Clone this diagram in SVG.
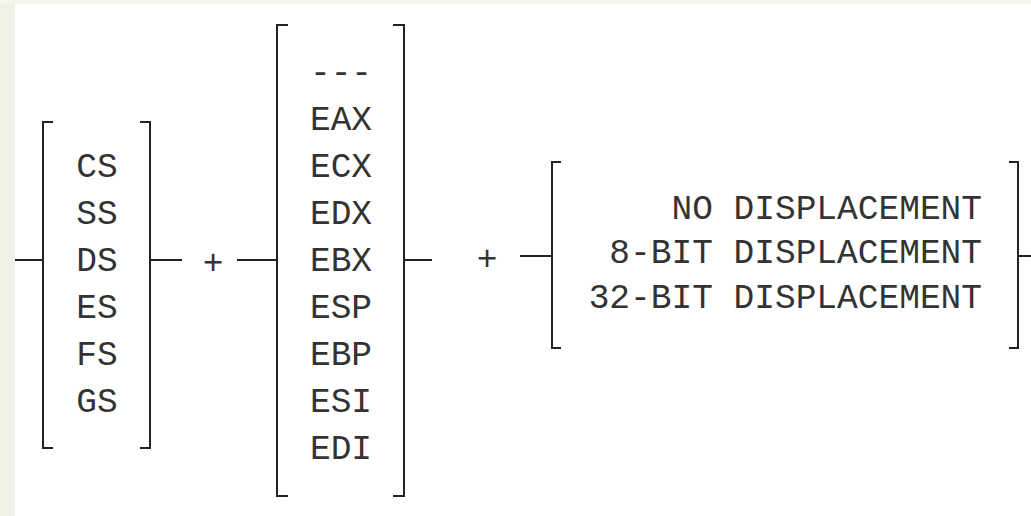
<svg xmlns="http://www.w3.org/2000/svg" width="1031" height="516" viewBox="0 0 1031 516">
  <style>
    .t { font-family: "Liberation Mono", "DejaVu Sans Mono", monospace; font-size: 34.5px; fill: #333; }
    .m { text-anchor: middle; }
    .e { text-anchor: end; }
    .br { fill: none; stroke: #222; stroke-width: 2; }
    .ln { stroke: #222; stroke-width: 2; }
  </style>
  <rect x="0" y="0" width="1031" height="516" fill="#ffffff"/>
  <rect x="0" y="0" width="15" height="516" fill="#eef2e4"/>
  <rect x="0" y="0" width="1031" height="4" fill="#f3f6ee"/>

  <g id="connectors">
    <line class="ln" x1="15" y1="260" x2="43" y2="260"/>
    <line class="ln" x1="150" y1="260" x2="182" y2="260"/>
    <text class="t m" x="213" y="274">+</text>
    <line class="ln" x1="237" y1="260" x2="277" y2="260"/>
    <line class="ln" x1="405" y1="260" x2="432" y2="260"/>
    <text class="t m" x="487" y="270">+</text>
    <line class="ln" x1="520" y1="256" x2="552" y2="256"/>
    <line class="ln" x1="1018" y1="256" x2="1031" y2="256"/>
  </g>

  <g id="segment">
    <path class="br" d="M53,122 H43 V448 H53"/>
    <path class="br" d="M140,122 H150 V448 H140"/>
    <text class="t m" x="97" y="177">CS</text>
    <text class="t m" x="97" y="224">SS</text>
    <text class="t m" x="97" y="271">DS</text>
    <text class="t m" x="97" y="318">ES</text>
    <text class="t m" x="97" y="365">FS</text>
    <text class="t m" x="97" y="412">GS</text>
  </g>

  <g id="base">
    <path class="br" d="M288,25 H277 V496 H288"/>
    <path class="br" d="M393,25 H404 V496 H393"/>
    <text class="t m" x="341" y="83">---</text>
    <text class="t m" x="341" y="130">EAX</text>
    <text class="t m" x="341" y="177">ECX</text>
    <text class="t m" x="341" y="224">EDX</text>
    <text class="t m" x="341" y="271">EBX</text>
    <text class="t m" x="341" y="318">ESP</text>
    <text class="t m" x="341" y="365">EBP</text>
    <text class="t m" x="341" y="412">ESI</text>
    <text class="t m" x="341" y="459">EDI</text>
  </g>

  <g id="displacement">
    <path class="br" d="M561,162 H552 V348 H561"/>
    <path class="br" d="M1009,162 H1018 V348 H1009"/>
    <text class="t e" x="982" y="219">NO DISPLACEMENT</text>
    <text class="t e" x="982" y="263">8-BIT DISPLACEMENT</text>
    <text class="t e" x="982" y="308">32-BIT DISPLACEMENT</text>
  </g>
</svg>
